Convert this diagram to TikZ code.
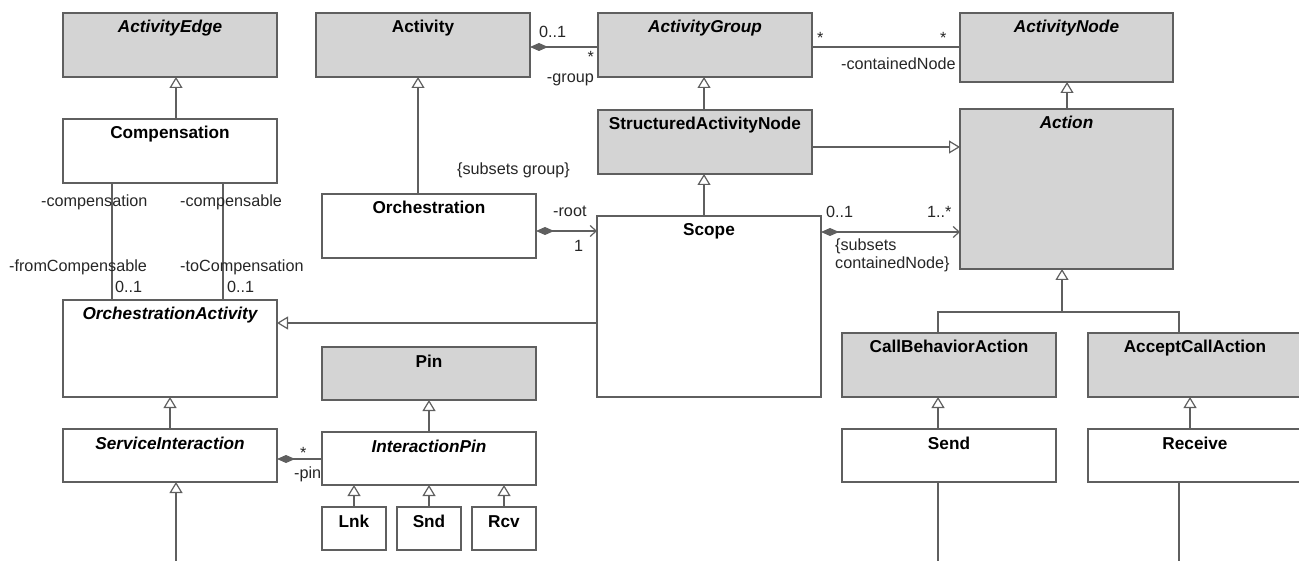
\documentclass[tikz,border=0pt]{standalone}
\usepackage{fontspec}
\setmainfont{Liberation Sans}
\usetikzlibrary{arrows.meta,calc}
\definecolor{lc}{RGB}{95,95,95}
\definecolor{gf}{RGB}{212,212,212}
\tikzset{
 box/.style={draw=lc,line width=1.4pt,anchor=north west,inner sep=0,outer sep=0},
 ttl/.style={anchor=base,inner sep=0,font=\fontsize{17.2}{20}\selectfont\bfseries},
 lbl/.style={anchor=base west,inner sep=0,font=\fontsize{16.2}{19}\selectfont,text=black!85},
 lble/.style={lbl,anchor=base east},
 conn/.style={draw=lc,line width=1.4pt},
 gen/.style={conn,-{Triangle[length=11pt,width=13pt,fill=white,line width=1.2pt]}},
 comp/.style={conn,{Diamond[length=18pt,width=8pt,fill=lc]}-},
 compnav/.style={conn,{Diamond[length=18pt,width=8pt,fill=lc]}-{Straight Barb[length=6pt,width=11pt,line width=1.2pt]}},
}
\newcommand\umlcls[8]{%
 \node[box,fill=#6,minimum width=#4pt,minimum height=#5pt] (#1) at (#2,#3) {};
 \node[ttl] (#1-t) at ([yshift=-20pt]#1.north) {#7#8};}
\begin{document}
\begin{tikzpicture}[x=1pt,y=-1pt]
\useasboundingbox (0,0) rectangle (1299,561);
\clip (0,0) rectangle (1299,561);
% classes
\umlcls{AE}{63}{13}{214}{64}{gf}{\itshape}{ActivityEdge}
\umlcls{Comp}{63}{119}{214}{64}{white}{}{Compensation}
\umlcls{OA}{63}{300}{214}{97}{white}{\itshape}{OrchestrationActivity}
\umlcls{SI}{63}{429}{214}{53}{white}{\itshape}{ServiceInteraction}
\umlcls{Act}{316}{13}{214}{64}{gf}{}{Activity}
\umlcls{Orch}{322}{194}{214}{64}{white}{}{Orchestration}
\umlcls{Pin}{322}{347}{214}{53}{gf}{}{Pin}
\umlcls{IP}{322}{432}{214}{53}{white}{\itshape}{InteractionPin}
\umlcls{Lnk}{322}{507}{64}{43}{white}{}{Lnk}
\umlcls{Snd}{397}{507}{64}{43}{white}{}{Snd}
\umlcls{Rcv}{472}{507}{64}{43}{white}{}{Rcv}
\umlcls{AG}{598}{13}{214}{64}{gf}{\itshape}{ActivityGroup}
\umlcls{SAN}{598}{110}{214}{64}{gf}{}{StructuredActivityNode}
\umlcls{Scope}{597}{216}{224}{181}{white}{}{Scope}
\umlcls{AN}{960}{13}{213}{69}{gf}{\itshape}{ActivityNode}
\umlcls{Action}{960}{109}{213}{160}{gf}{\itshape}{Action}
\umlcls{CBA}{842}{333}{214}{64}{gf}{}{CallBehaviorAction}
\umlcls{ACA}{1088}{333}{214}{64}{gf}{}{AcceptCallAction}
\umlcls{Send}{842}{429}{214}{53}{white}{}{Send}
\umlcls{Receive}{1088}{429}{214}{53}{white}{}{Receive}
% connectors
\draw[gen] ([xshift=6pt]Comp.north) -- ([xshift=6pt]AE.south);
\draw[conn] (Comp.south -| 112,0) -- (OA.north -| 112,0);
\draw[conn] (Comp.south -| 223,0) -- (OA.north -| 223,0);
\draw[gen] (Scope.west |- 0,323) -- (OA.east |- 0,323);
\draw[gen] (SI.north) -- (OA.south);
\coordinate (siB) at (176,575);
\draw[gen] (siB) -- (SI.south -| siB);
\draw[comp] (SI.east |- 0,459) -- (IP.west |- 0,459);
\draw[gen] (IP.north) -- (Pin.south);
\draw[gen] (Lnk.north) -- (Lnk.north |- IP.south);
\draw[gen] (Snd.north) -- (Snd.north |- IP.south);
\draw[gen] (Rcv.north) -- (Rcv.north |- IP.south);
\draw[gen] (Orch.north -| 418,0) -- (Act.south -| 418,0);
\draw[comp] (Act.east |- 0,47) -- (AG.west |- 0,47);
\draw[conn] (AG.east |- 0,47) -- (AN.west |- 0,47);
\draw[gen] (SAN.north -| 704,0) -- (AG.south -| 704,0);
\draw[gen] (SAN.east |- 0,147) -- (Action.west |- 0,147);
\draw[gen] (Scope.north -| 704,0) -- (SAN.south -| 704,0);
\draw[compnav] (Orch.east |- 0,231) -- (Scope.west |- 0,231);
\draw[compnav] (Scope.east |- 0,232) -- (Action.west |- 0,232);
\draw[gen] (Action.north -| 1067,0) -- (AN.south -| 1067,0);
\coordinate (jn) at (1062,312);
\draw[conn] (CBA.north -| 938,0) |- (jn) -| (ACA.north -| 1179,0);
\draw[gen] (jn) -- (Action.south -| jn);
\draw[gen] (Send.north -| 938,0) -- (CBA.south -| 938,0);
\draw[gen] (Receive.north -| 1190,0) -- (ACA.south -| 1190,0);
\coordinate (sendB) at (938,575);
\coordinate (recB) at (1179,575);
\draw[conn] (Send.south -| sendB) -- (sendB);
\draw[conn] (Receive.south -| recB) -- (recB);
% labels
\node[lbl] (l1) at (41,207) {-compensation};
\node[lbl] (l2) at (180,207) {-compensable};
\node[lbl] (l3) at (9,272) {-fromCompensable};
\node[lbl] (l4) at (180,272) {-toCompensation};
\node[lbl] (l5) at (115,293) {0..1};
\node[lbl] (l6) at (227,293) {0..1};
\node[lbl] (l7) at (457,175) {\{subsets group\}};
\node[lbl] (l8) at (539,38) {0..1};
\node[lble] (l9) at (594,63) {*};
\node[lble] (l10) at (594,83) {-group};
\node[lbl] (l11) at (817,44) {*};
\node[lbl] (l12) at (940,44) {*};
\node[lbl] (l13) at (841,70) {-containedNode};
\node[lbl] (l14) at (553,217) {-root};
\node[lbl] (l15) at (574,252) {1};
\node[lbl] (l16) at (826,218) {0..1};
\node[lbl] (l17) at (927,218) {1..*};
\node[lbl] (l18) at (835,251) {\{subsets};
\node[lbl] (l19) at (835,269) {containedNode\}};
\node[lbl] (l20) at (300,458) {*};
\node[lbl] (l21) at (294,478) {-pin};
\end{tikzpicture}
\end{document}
